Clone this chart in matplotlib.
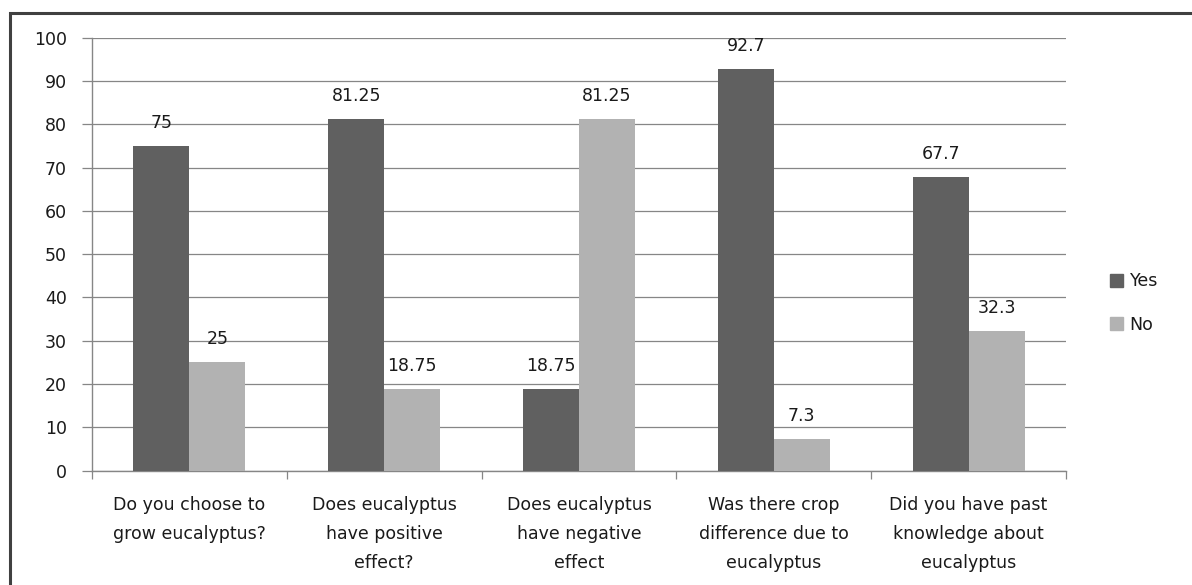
import matplotlib.pyplot as plt
from matplotlib.patches import Rectangle, Patch
import numpy as np

questions = [
    'Do you choose to\ngrow eucalyptus?',
    'Does eucalyptus\nhave positive\neffect?',
    'Does eucalyptus\nhave negative\neffect',
    'Was there crop\ndifference due to\neucalyptus',
    'Did you have past\nknowledge about\neucalyptus',
]
yes_pct = [75, 81.25, 18.75, 92.7, 67.7]
no_pct = [25, 18.75, 81.25, 7.3, 32.3]
yes_labels = ['75', '81.25', '18.75', '92.7', '67.7']
no_labels = ['25', '18.75', '81.25', '7.3', '32.3']

dark = '#606060'
light = '#b2b2b2'
grid_col = '#868686'
text_col = '#1a1a1a'
fs = 12.5

plt.rcParams['font.family'] = 'DejaVu Sans'

fig = plt.figure(figsize=(11.92, 5.85), dpi=100)
ax = fig.add_axes([92 / 1192, 1 - 470.5 / 585, (1066 - 92) / 1192, (470.5 - 37.7) / 585])

x = np.arange(len(questions))
w = 0.2875
bars_yes = ax.bar(x - w / 2, yes_pct, w, color=dark, zorder=3, label='Yes')
bars_no = ax.bar(x + w / 2, no_pct, w, color=light, zorder=3, label='No')

# value labels above each bar
for bars, labels in ((bars_yes, yes_labels), (bars_no, no_labels)):
    for b, lab in zip(bars, labels):
        ax.annotate(lab, (b.get_x() + b.get_width() / 2, b.get_height()),
                    xytext=(0, 13), textcoords='offset points',
                    ha='center', va='baseline', fontsize=fs, color=text_col)

ax.set_xlim(-0.5, len(questions) - 0.5)
ax.set_ylim(0, 100)
ax.set_yticks(range(0, 101, 10))
ax.yaxis.grid(True, color=grid_col, linewidth=0.9, zorder=0)
ax.set_axisbelow(True)

ax.set_xticks(x)
ax.set_xticklabels(questions, fontsize=fs, color=text_col, linespacing=1.8,
                   multialignment='center')
ax.set_xticks(np.arange(-0.5, len(questions)), minor=True)
ax.tick_params(axis='x', which='major', length=0, pad=18)
ax.tick_params(axis='x', which='minor', length=6, width=0.9, color=grid_col, direction='out')
ax.tick_params(axis='y', length=7, width=0.9, color=grid_col, pad=11,
               labelsize=fs, labelcolor=text_col)

for s in ('top', 'right'):
    ax.spines[s].set_visible(False)
for s in ('left', 'bottom'):
    ax.spines[s].set_color(grid_col)
    ax.spines[s].set_linewidth(1.0)

handles = [Patch(color=dark, label='Yes'), Patch(color=light, label='No')]
fig.legend(handles=handles, loc='center left', bbox_to_anchor=(1094 / 1192, 1 - 303 / 585),
           frameon=False, fontsize=fs, handlelength=0.75, handleheight=0.75,
           handletextpad=0.4, labelspacing=1.45, labelcolor=text_col)

# outer chart border, runs past the right and bottom edges
fig.patches.append(Rectangle((10 / 1192, -0.1), 1.2, 1 - 12.5 / 585 + 0.1,
                             transform=fig.transFigure, fill=False,
                             edgecolor='#404040', linewidth=2.2, clip_on=False))

fig.savefig('out.png', dpi=100)
